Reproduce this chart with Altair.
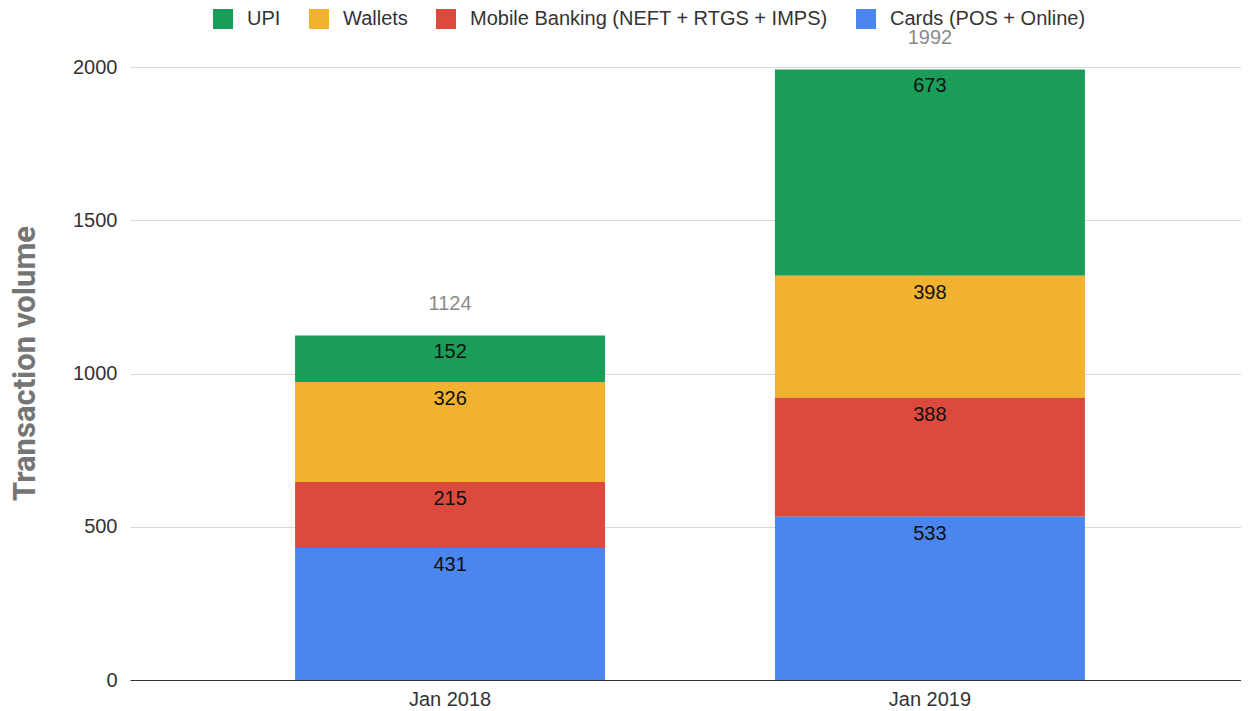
import altair as alt
import pandas as pd

months = ["Jan 2018", "Jan 2019"]
series = ["UPI", "Wallets", "Mobile Banking (NEFT + RTGS + IMPS)", "Cards (POS + Online)"]
colors = ["#1B9D5A", "#F1B22F", "#DB4A3D", "#4A86EE"]
upi = [152, 673]
wallets = [326, 398]
mobile = [215, 388]
cards = [431, 533]
y_ticks = [0, 500, 1000, 1500, 2000]

values_by_series = [upi, wallets, mobile, cards]
rows = []
for s_idx, (name, vals) in enumerate(zip(series, values_by_series)):
    for m, v in zip(months, vals):
        # rank: Cards at bottom, UPI at top
        rows.append({"month": m, "series": name, "value": v, "rank": len(series) - 1 - s_idx})
df = pd.DataFrame(rows)

FONT = "Liberation Sans"
FS = 20

x_enc = alt.X(
    "month:N",
    sort=months,
    title=None,
    scale=alt.Scale(range=[0, 1120], paddingInner=0.354, paddingOuter=0.344),
    axis=alt.Axis(
        labelAngle=0, labelFont=FONT, labelFontSize=FS, labelColor="#333333",
        labelPadding=9, ticks=False, domainColor="#333333", domainWidth=1.2, grid=False,
    ),
)

base = alt.Chart(df).transform_stack(
    stack="value", as_=["y0", "y1"], groupby=["month"], sort=[alt.SortField("rank", order="ascending")]
)

bars = base.mark_bar().encode(
    x=x_enc,
    y=alt.Y(
        "y1:Q",
        title="Transaction volume",
        scale=alt.Scale(domain=[0, 2000], nice=False),
        axis=alt.Axis(
            values=y_ticks, format="d", labelFont=FONT, labelFontSize=FS, labelColor="#333333",
            labelPadding=13, ticks=False, domain=False, gridColor="#D9D9D9", gridWidth=1,
            titleFont="Roboto", titleFontSize=31, titleFontWeight="bold", titleColor="#757575",
            titleAngle=270, titleX=-105, titleY=296, titleAlign="center", titleBaseline="middle",
        ),
    ),
    y2="y0:Q",
    color=alt.Color(
        "series:N",
        scale=alt.Scale(domain=series, range=colors),
        legend=alt.Legend(
            title=None, orient="none", direction="horizontal", legendX=83, legendY=-58,
            symbolType="square", symbolSize=400, symbolStrokeWidth=0, symbolOpacity=1,
            labelFont=FONT, labelFontSize=FS, labelColor="#333333", labelOffset=14,
            labelLimit=0, columnPadding=28, padding=0,
        ),
    ),
)

labels = base.mark_text(font=FONT, fontSize=FS, color="#111111", dy=17, baseline="middle").encode(
    x=alt.X("month:N", sort=months),
    y="y1:Q",
    text="value:Q",
)

totals = alt.Chart(df).transform_aggregate(
    total="sum(value)", groupby=["month"]
).mark_text(font=FONT, fontSize=FS, color="#8A8A8A", dy=-31, baseline="middle").encode(
    x=alt.X("month:N", sort=months),
    y="total:Q",
    text="total:Q",
)

chart = alt.layer(bars, labels, totals).properties(
    width=1108,
    height=613,
    padding={"left": 122, "top": 59, "right": 3, "bottom": 30},
    autosize=alt.AutoSizeParams(type="none"),
).configure_view(stroke=None)

chart.save("out.html", embed_options={"renderer": "svg", "actions": False})
